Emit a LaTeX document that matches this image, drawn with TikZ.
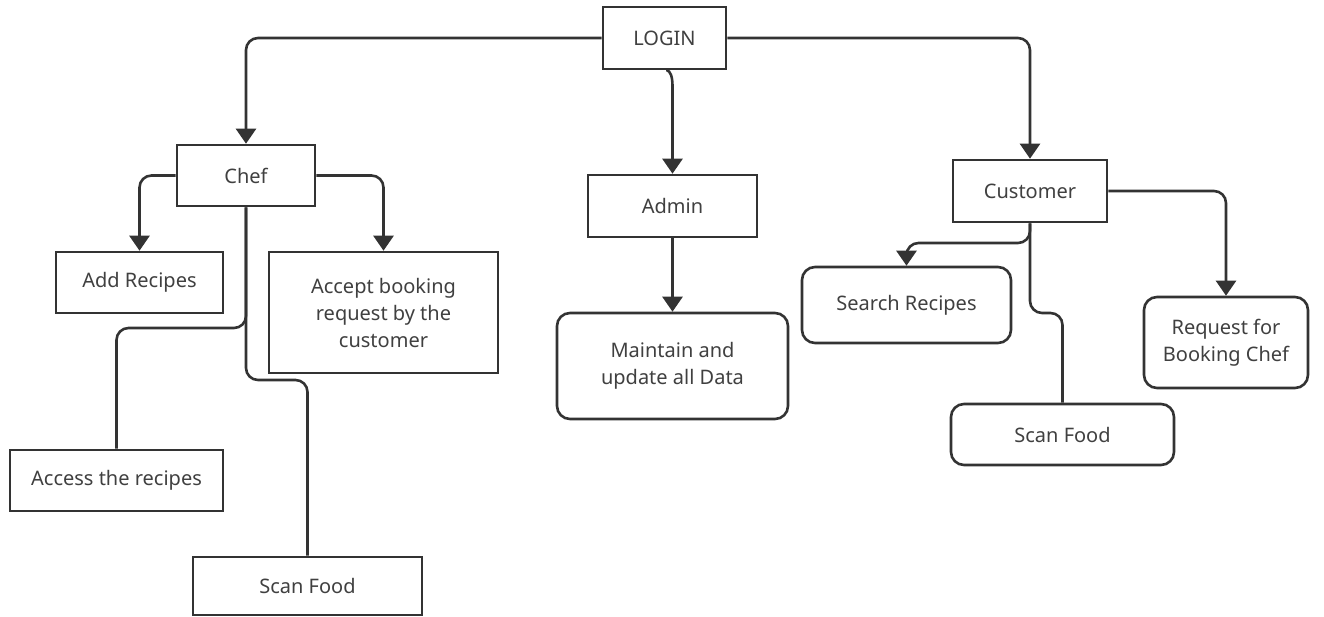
\documentclass[tikz,border=0pt]{standalone}
\usepackage{fontspec}
\setmainfont{Noto Sans}
\usetikzlibrary{arrows.meta}
\definecolor{ln}{HTML}{333333}
\definecolor{tx}{HTML}{404040}
\tikzset{
  box/.style={draw=ln, line width=2.6pt, fill=white, text=tx, align=center,
    font=\fontsize{20}{27}\selectfont, inner sep=0pt},
  rbox/.style={box, rounded corners=13pt},
  conn/.style={draw=ln, line width=2.6pt, rounded corners=12pt},
  arr/.style={conn, -{Triangle[width=20pt,length=15pt]}},
}
\begin{document}
\begin{tikzpicture}[x=1pt,y=-1pt]
\useasboundingbox (0,0) rectangle (1324,617);
% nodes
\node[box, minimum width=123pt, minimum height=62pt] (login) at (664.5,38) {LOGIN};
\node[box, minimum width=138pt, minimum height=61pt] (chef) at (246,175.5) {Chef};
\node[box, minimum width=169pt, minimum height=62pt] (admin) at (672.5,206) {Admin};
\node[box, minimum width=154pt, minimum height=62pt] (cust) at (1030,191) {Customer};
\node[box, minimum width=167pt, minimum height=61pt] (addr) at (139.5,282.5) {Add Recipes};
\node[box, minimum width=229pt, minimum height=121pt] (accept) at (383.5,312.5) {Accept booking\\request by the\\customer};
\node[box, minimum width=213pt, minimum height=61pt] (access) at (116.5,480.5) {Access the recipes};
\node[box, minimum width=229pt, minimum height=58pt] (scana) at (307.5,586) {Scan Food};
\node[rbox, minimum width=231pt, minimum height=106pt] (maint) at (672.5,366) {Maintain and\\update all Data};
\node[rbox, minimum width=209pt, minimum height=76pt] (search) at (906.5,305) {Search Recipes};
\node[rbox, minimum width=223pt, minimum height=61pt] (scanc) at (1062.5,434.5) {Scan Food};
\node[rbox, minimum width=164pt, minimum height=91pt] (req) at (1226,342.5) {Request for\\Booking Chef};
% connectors from LOGIN
\draw[arr] (login.west) -| (chef.north);
\draw[arr] (login.east) -| (cust.north);
\draw[arr, rounded corners=0pt, line cap=round] ([xshift=2.5pt]login.south) .. controls (670,71) and (672.5,76) .. (admin.north |- 0,86) -- (admin.north);
% Chef
\draw[arr] (chef.west) -| (addr.north);
\draw[arr] (chef.east) -| (accept.north);
\draw[conn] (chef.south) -- (chef.south |- 0,328) -| (access.north);
\draw[conn] (chef.south) -- (chef.south |- 0,380) -| (scana.north);
% Admin
\draw[arr] (admin.south) -- (maint.north);
% Customer
\draw[arr] (cust.south) -- (cust.south |- 0,243) -| (search.north);
\draw[conn] (cust.south) -- (cust.south |- 0,313) -| (scanc.north);
\draw[arr] (cust.east) -| (req.north);
\end{tikzpicture}
\end{document}
